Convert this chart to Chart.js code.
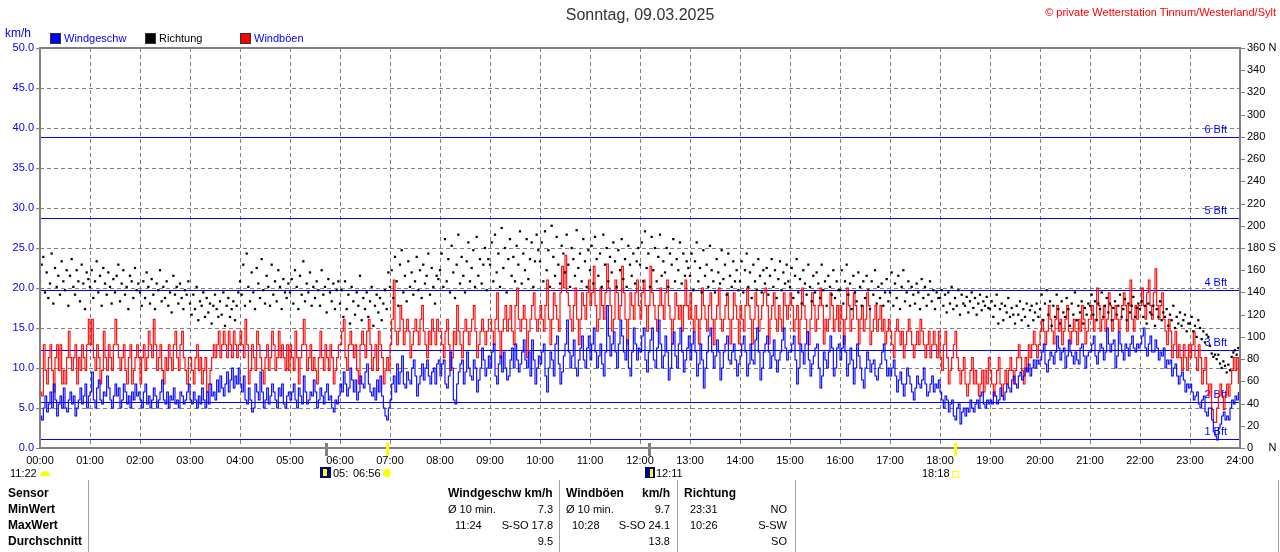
<!DOCTYPE html>
<html><head><meta charset="utf-8">
<script src="https://cdn.jsdelivr.net/npm/chart.js@4.4.1/dist/chart.umd.min.js"></script>
<style>
body{margin:0;background:#fff;}
#wrap{position:relative;width:1280px;height:552px;overflow:hidden;font-family:"Liberation Sans",Arial,sans-serif;font-size:11px;color:#000;}
#c{position:absolute;left:0;top:0;}
.t{position:absolute;white-space:pre;line-height:14px;height:14px;}
.b{font-weight:bold;font-size:12px;}
.sep{position:absolute;width:1px;background:#a0a0a0;top:480px;height:72px;}
.sq{position:absolute;width:9px;height:9px;border:1px solid #333;}
</style></head><body>
<div id="wrap">
<canvas id="c" width="1280" height="552"></canvas>
<div class="t" style="left:0;width:1280px;top:6px;height:18px;line-height:18px;text-align:center;font-size:16px;color:#333;">Sonntag, 09.03.2025</div>
<div class="t" style="right:4px;top:5px;color:#ff0000;">© private Wetterstation Tinnum/Westerland/Sylt</div>
<div class="t" style="left:5px;top:26px;color:#0000ff;font-size:12px;">km/h</div>
<div class="sq" style="left:50px;top:33px;background:#0000ff;"></div>
<div class="t" style="left:64px;top:31px;color:#0000ff;">Windgeschw</div>
<div class="sq" style="left:145px;top:33px;background:#000;"></div>
<div class="t" style="left:159px;top:31px;">Richtung</div>
<div class="sq" style="left:240px;top:33px;background:#ff0000;"></div>
<div class="t" style="left:254px;top:31px;color:#0000ff;">Windböen</div>

<div class="t" style="left:10px;top:466px;">11:22</div>
<div style="position:absolute;left:40px;top:471px;width:10px;height:5px;background:#ffff00;border-radius:5px 5px 0 0;"></div>
<div style="position:absolute;left:320px;top:467px;width:11px;height:11px;background:#000080;"></div>
<div style="position:absolute;left:323px;top:469px;width:4px;height:7px;background:#ffff00;"></div>
<div class="t" style="left:333px;top:466px;">05:</div>
<div class="t" style="left:353px;top:466px;">06:56</div>
<div style="position:absolute;left:383px;top:469px;width:8px;height:8px;background:#ffff00;border-radius:4px;"></div>
<div style="position:absolute;left:645px;top:467px;width:10px;height:11px;background:#000080;"></div>
<div style="position:absolute;left:650px;top:469px;width:3px;height:8px;background:#ffff00;"></div>
<div class="t" style="left:656px;top:466px;">12:11</div>
<div class="t" style="left:922px;top:466px;">18:18</div>
<div style="position:absolute;left:952px;top:471px;width:5px;height:5px;border:1px solid #ffff00;"></div>

<div class="sep" style="left:88px;"></div>
<div class="sep" style="left:559px;"></div>
<div class="sep" style="left:677px;"></div>
<div class="sep" style="left:795px;"></div>
<div class="sep" style="left:1278px;"></div>
<div class="t b" style="left:8px;top:486px;">Sensor</div>
<div class="t b" style="left:8px;top:502px;">MinWert</div>
<div class="t b" style="left:8px;top:518px;">MaxWert</div>
<div class="t b" style="left:8px;top:534px;">Durchschnitt</div>
<div class="t b" style="left:448px;top:486px;">Windgeschw km/h</div>
<div class="t b" style="left:566px;top:486px;">Windböen</div>
<div class="t b" style="right:610px;top:486px;">km/h</div>
<div class="t b" style="left:684px;top:486px;">Richtung</div>
<div class="t" style="left:448px;top:502px;">Ø 10 min.</div>
<div class="t" style="right:727px;top:502px;">7.3</div>
<div class="t" style="left:566px;top:502px;">Ø 10 min.</div>
<div class="t" style="right:610px;top:502px;">9.7</div>
<div class="t" style="left:690px;top:502px;">23:31</div>
<div class="t" style="right:493px;top:502px;">NO</div>
<div class="t" style="left:455px;top:518px;">11:24</div>
<div class="t" style="right:727px;top:518px;">S-SO 17.8</div>
<div class="t" style="left:572px;top:518px;">10:28</div>
<div class="t" style="right:610px;top:518px;">S-SO 24.1</div>
<div class="t" style="left:690px;top:518px;">10:26</div>
<div class="t" style="right:493px;top:518px;">S-SW</div>
<div class="t" style="right:727px;top:534px;">9.5</div>
<div class="t" style="right:610px;top:534px;">13.8</div>
<div class="t" style="right:493px;top:534px;">SO</div>
</div>
<script>
// sample interval in minutes (each row below = half an hour)
const stepMin = 2;
const hourLabels = ['00:00','01:00','02:00','03:00','04:00','05:00','06:00','07:00','08:00','09:00','10:00','11:00','12:00','13:00','14:00','15:00','16:00','17:00','18:00','19:00','20:00','21:00','22:00','23:00','24:00'];
const windSpeed = [
4,3.5,5,6.5,4.5,5.5,7,5,8,6,4,5.5,6.5,5,7.5,
5,4.5,6,7,5.5,6.5,4,5,6,7.5,5.5,6.5,8,5,6.5,
7,9.5,6,5,7.5,8.5,6,5.5,7,6.5,9,7.5,6,5,6.5,
8,6.5,7.5,5,6,8,7,5.5,6.5,5,7,6,8,6.5,7,
6,5,7,8,5.5,6.5,5,6,7.5,6.5,5,6,7,8.5,6,
5.5,7,5,6.5,6,7.5,5.5,6,5,7,6.5,5.5,6,7,8,
6,5.5,7,6,5,6.5,5.5,7.5,6,5,7,5.5,8,6.5,7,
6,8.5,7,9,7.5,6.5,8,9.5,7,8.5,10,7.5,9,8,10,
8,7,9,6,5.5,7.5,6,4.5,5,8,7,6,9.5,7,5,
6,7.5,5.5,6.5,8,7,6,5,7.5,6.5,8,5.5,5,6.5,7,
6,7,8,6,5,7.5,6.5,5.5,9,7,5.5,6,7,6.5,8.5,
7,5,6,7.5,6.5,5.5,7,8,6,6.5,5,4.5,6,5.5,6.5,
8,7,9.5,8,6.5,7.5,10,8.5,7,8.5,6,7,9,8,7.5,
9.5,10.5,8,7,6.5,7.5,6,8.5,7,9,6.5,5,4,3.5,5,
6,8,9,7,10.5,8,9.5,11.5,8,7.5,9.5,8.5,8,10,11,
9,6.5,8,9,10.5,8.5,10,11,9,8,9.5,10,8,10.5,11,
9,10.5,11,8,7.5,9,12,10,6,5.5,8,9.5,10.5,11,8,
9.5,12,10,9,8.5,11,10,7,8.5,10,12.5,11,9,10,11.5,
10,12,13,9,8,10.5,11.5,9.5,12,10,8.5,9,11,12.5,10,
13,11,9.5,10.5,12,13.5,11,10,12,9,13.5,11,8,10,11.5,
10.5,12,13,9,7,10,12,11,9,13,14,10.5,8,9.5,11.5,
13,16,12,10,11.5,13.5,10,9,11,12.5,14,11,10,12.5,14,
11,13,15,12,10,11.5,13,10.5,9,12,17.8,14,11.5,13,14.5,
12,10,13,16,14,12,11,13.5,10,9,12,15,13,11,12.5,
12,14,15,11,9.5,12,13.5,15,11,10,12.5,16,13,10,11.5,
14,12,8.5,10,13,14.5,11.5,10,13,15,12,9.5,11,12.5,14,
11,13,14.5,12,9,10.5,13,11,7.5,10,12,14,15,12,10,
11.5,13.5,12,8.5,10,12,13,14,11,10.5,12,13,11,9,10.5,
11.5,13,14,12,9,10.5,13,11,10.5,13.5,15,12,8.5,10,12,
13,14,12,10,11.5,13.5,11,9.5,11,12,13.5,15,12.5,11,12,
12,13,14,11,8,10,13,12,10.5,13,14.5,11,9,10.5,11.5,
12.5,13,10,7.5,9,12,11,10,12,14,12.5,9,10,12.5,13,
11,12.5,14,12,9,10.5,12.5,11,8,10,13,11.5,10,8.5,7.5,
10,12,11,9.5,10.5,11,9,8.5,10,10.5,12,13,11,9,10,
9,10,11,9,7,8.5,9.5,8,6.5,8,10,9,8,7,6,
7.5,9,8,7.5,8.5,10,8,6.5,7,8,9,7,8,7.5,8.5,
7,6,5,6.5,6,4.5,5.5,6,4,3.5,5,5.5,3,4.5,5,
4,5,4.5,6,5,4.5,5.5,6,5,6.5,7,5.5,5,6,5.5,
6,5.5,7,6.5,5.5,6,7.5,6.5,6,7,8,7.5,7,8.5,9,
8,7.5,9,9.5,8.5,9,10,9.5,10.5,9,10,11,10,11,10.5,
11,12,13,10.5,9.5,11,12,11.5,10.5,12,14,12.5,11,12,12.5,
10,11.5,13.5,12,11.5,10.5,12,11,10.5,12.5,13,11.5,10,11.5,12,
12,13,14,11.5,10.5,12,13,12.5,11,12,15,13,12,13,13.5,
10,11.5,14.5,13,12,11,13,12.5,11.5,13,14,12.5,12,13,12.5,
13,14,15,12.5,11.5,13,14,12,12,13.5,12.5,11,12,11.5,12.5,
10,11,10.5,11,9,10,10.5,9,8,9,9.5,8.5,7,8,7.5,
8,7,6,6.5,7,5.5,5,6,6.5,4.5,4,5,5,3.5,2,
1.5,1,2.5,3,4,4.5,3.5,4,3.5,5,6,5.5,6.5,6,7
];
const windGust = [
7,6.5,12.9,9.7,8,11.3,12.9,9.7,7,11.3,12.9,9.7,12.9,8,9.7,
8,11.3,14.6,11.3,9.7,11.3,12.9,8,11.3,9.7,12.9,11.3,9.7,12.9,16.1,
12.9,16.1,11.3,9.7,12.9,11.3,8,9.7,14.6,11.3,9.7,12.9,11.3,9.7,12.9,
16.1,12.9,11.3,9.7,11.3,12.9,9.7,8,11.3,12.9,8,9.7,11.3,12.9,11.3,
8,11.3,12.9,9.7,11.3,14.6,12.9,11.3,16.1,12.9,9.7,11.3,12.9,9.7,8,
11.3,9.7,12.9,11.3,9.7,12.9,14.6,11.3,9.7,12.9,14.6,11.3,9.7,8,11.3,
11.3,9.7,8,11.3,12.9,9.7,11.3,8,9.7,11.3,7,8,9.7,11.3,12.9,
11.3,12.9,14.6,11.3,12.9,14.6,12.9,11.3,14.6,12.9,11.3,14.6,12.9,11.3,12.9,
14.6,12.9,11.3,16.1,12.9,8,9.7,12.9,11.3,9.7,14.6,12.9,11.3,9.7,8,
11.3,12.9,9.7,11.3,14.6,12.9,9.7,11.3,14.6,11.3,12.9,11.3,9.7,12.9,9.7,
12.9,11.3,9.7,14.6,11.3,8,11.3,12.9,16.1,12.9,9.7,11.3,12.9,9.7,11.3,
9.7,8,11.3,14.6,11.3,9.7,12.9,11.3,9.7,12.9,11.3,8,9.7,11.3,12.9,
12.9,14.6,16.1,11.3,9.7,12.9,14.6,12.9,11.3,12.9,9.7,8,12.9,14.6,12.9,
11.3,14.6,16.1,12.9,9.7,11.3,12.9,9.7,14.6,12.9,11.3,8,9.7,11.3,9.7,
12.9,16.1,21,14.6,12.9,14.6,17.8,16.1,12.9,14.6,16.1,14.6,11.3,12.9,14.6,
16.1,14.6,12.9,16.1,17.8,14.6,12.9,11.3,14.6,12.9,16.1,14.6,12.9,16.1,14.6,
14.6,12.9,11.3,14.6,16.1,12.9,9.7,11.3,14.6,12.9,17.8,14.6,12.9,11.3,14.6,
16.1,14.6,12.9,14.6,16.1,17.8,14.6,11.3,12.9,14.6,16.1,14.6,12.9,14.6,16.1,
16.1,14.6,12.9,16.1,19.4,14.6,11.3,14.6,16.1,17.8,14.6,16.1,17.8,14.6,12.9,
17.8,20,16.1,14.6,16.1,17.8,16.1,11.3,14.6,16.1,17.8,19.4,16.1,14.6,16.1,
17.8,16.1,14.6,17.8,21,16.1,12.9,16.1,19.4,17.8,16.1,14.6,19.4,22.7,20,
24.1,19.4,17.8,16.1,14.6,17.8,20,16.1,12.9,16.1,19.4,17.8,16.1,19.4,21,
17.8,19.4,22.7,17.8,14.6,16.1,20,17.8,16.1,19.4,23,20,17.8,14.6,16.1,
21,19.4,16.1,17.8,22.7,19.4,16.1,13,16.1,19.4,17.8,16.1,19.4,21,17.8,
16.1,19.4,21,17.8,14.6,17.8,22.7,19.4,17.8,16.1,14.6,17.8,20,17.8,16.1,
19.4,21,17.8,16.1,13,16.1,19.4,17.8,16.1,17.8,14.6,17.8,21,17.8,16.1,
19.4,16.1,14.6,17.8,16.1,13,16.1,20,17.8,16.1,14.6,17.8,19.4,16.1,12.9,
16.1,17.8,20,16.1,14.6,16.1,17.8,19.4,16.1,13,16.1,19.4,17.8,16.1,13,
17.8,16.1,14.6,17.8,20,17.8,16.1,13,16.1,19.4,17.8,14.6,16.1,17.8,19.4,
20,17.8,13,16.1,17.8,19.4,16.1,14.6,17.8,16.1,14.6,19.4,17.8,16.1,17.8,
19.4,17.8,14.6,16.1,17.8,13,16.1,20,17.8,16.1,14.6,12.9,16.1,19.4,17.8,
14.6,16.1,17.8,20,17.8,13,16.1,14.6,16.1,19.4,17.8,14.6,16.1,17.8,14.6,
17.8,16.1,13,16.1,20,17.8,14.6,16.1,19.4,17.8,16.1,13,16.1,17.8,14.6,
16.1,19.4,17.8,12.9,14.6,16.1,17.8,14.6,16.1,17.8,14.6,16.1,13,14.6,16.1,
14.6,12.9,11.3,14.6,16.1,14.6,12.9,14.6,11.3,12.9,14.6,16.1,14.6,12.9,11.3,
12.9,14.6,12.9,16.1,14.6,12.9,11.3,12.9,14.6,11.3,12.9,14.6,12.9,11.3,14.6,
11.3,9.7,12.9,14.6,11.3,8,9.7,11.3,12.9,14.6,11.3,9.7,8,9.7,11.3,
8,6.5,8,9.7,11.3,8,9.7,8,6.5,8,9.7,7,9.7,8,11.3,
9.7,8,6.5,8,9.7,11.3,8,6.5,8,9.7,8,9.7,11.3,9.7,8,
9.7,11.3,12.9,11.3,9.7,8,11.3,9.7,12.9,11.3,12.9,14.6,12.9,11.3,12.9,
14.6,16.1,14.6,12.9,14.6,17.8,16.1,14.6,13,16.1,17.8,14.6,16.1,12.9,14.6,
16.1,17.8,14.6,13,14.6,16.1,14.6,12.9,16.1,14.6,17.8,16.1,13,14.6,16.1,
16.1,17.8,14.6,16.1,20,17.8,14.6,16.1,17.8,14.6,16.1,19.4,17.8,14.6,16.1,
17.8,16.1,14.6,16.1,17.8,19.4,17.8,14.6,17.8,21,16.1,14.6,17.8,16.1,17.8,
17.8,20,17.8,16.1,19.4,21,17.8,16.1,19.4,22.4,17.8,16.1,17.8,19.4,16.1,
14.6,12.9,16.1,14.6,11.3,12.9,14.6,11.3,12.9,11.3,9.7,12.9,11.3,9.7,12.9,
11.3,12.9,14.6,11.3,9.7,12.9,11.3,8,9.7,11.3,8,6.5,8,4.8,3.2,
3.2,5,6.5,8,6.5,4.8,6.5,8,6.5,8,9.7,11.3,9.7,11.3,8
];
const windDir = [
150,165,172,140,158,135,148,175,130,162,145,155,138,168,150,
142,160,128,155,170,145,138,160,150,132,165,148,125,158,152,
145,160,135,150,168,140,155,128,162,148,138,158,145,130,152,
140,155,165,132,148,160,138,145,125,155,150,135,162,142,148,
140,128,150,135,158,145,130,152,138,125,148,142,160,132,145,
135,150,128,140,122,155,138,145,130,148,135,125,142,138,150,
130,120,138,125,145,115,132,128,140,118,135,122,130,112,128,
138,125,118,132,120,140,110,128,135,118,125,132,115,128,140,
150,138,165,128,175,145,132,158,140,125,162,148,135,170,142,
130,155,145,128,165,138,150,132,160,145,125,152,140,135,148,
140,152,130,160,145,125,155,138,168,132,148,140,158,128,145,
135,150,142,128,160,138,145,122,152,140,132,148,125,142,150,
130,142,118,150,125,138,112,145,132,120,140,128,155,115,135,
125,140,118,132,145,110,128,138,122,135,115,130,142,125,158,
145,160,135,172,150,128,165,178,140,155,132,168,145,158,138,
150,172,142,160,135,165,148,155,175,138,162,145,130,155,152,
160,175,145,188,150,170,140,182,158,135,165,192,148,172,155,
140,168,185,150,162,178,145,190,155,170,148,165,180,142,170,
165,185,150,192,158,175,145,198,162,180,140,170,188,155,172,
150,182,165,195,148,175,160,188,152,170,185,145,168,192,178,
168,185,150,195,160,178,145,200,172,155,190,165,148,182,175,
158,192,165,145,180,170,155,196,162,175,150,188,168,145,178,
160,182,148,190,170,155,175,145,192,165,180,150,172,158,185,
168,145,178,160,188,152,170,145,182,165,155,175,148,168,180,
165,185,150,195,162,175,145,190,160,180,150,172,192,155,168,
158,180,145,175,165,188,150,170,160,185,148,175,155,168,162,
155,175,142,168,185,150,162,140,178,155,165,145,182,160,150,
140,170,158,148,178,152,165,138,175,155,145,168,150,160,142,
150,168,140,160,175,145,158,135,165,150,142,170,155,140,160,
148,162,138,155,170,145,160,135,152,168,142,158,148,165,150,
145,162,135,155,170,140,152,130,160,148,138,165,145,132,155,
140,158,148,135,165,142,150,128,155,145,138,160,135,150,142,
142,160,130,150,165,138,148,125,155,140,132,158,145,128,150,
135,155,142,125,150,138,160,130,145,135,148,128,140,152,132,
140,158,128,148,135,155,125,145,160,132,140,150,128,145,138,
130,148,140,125,152,135,145,128,138,150,132,142,125,140,135,
135,142,128,138,122,140,130,145,125,135,128,142,120,138,130,
128,136,122,132,140,126,135,120,130,138,124,132,128,136,126,
125,132,118,128,138,112,125,130,115,128,122,135,118,126,120,
112,128,120,132,115,125,118,130,110,124,128,115,122,130,118,
125,138,115,130,142,120,132,110,128,118,138,125,112,132,122,
118,135,125,110,130,120,140,115,128,122,132,112,126,120,130,
128,138,120,132,115,130,125,140,118,128,135,122,130,115,126,
132,120,128,138,118,125,134,115,130,122,128,136,118,126,130,
125,132,118,128,112,130,122,120,128,110,125,118,132,115,122,
118,125,110,120,115,128,108,118,112,122,110,115,120,105,112,
112,118,105,110,100,115,108,98,105,95,102,100,92,85,82,
84,80,84,76,72,78,74,68,75,70,82,86,88,84,90
];
const bftValues = [1.08, 5.76, 12.24, 19.8, 28.8, 38.88];
const bftLabels = ['1 Bft','2 Bft','3 Bft','4 Bft','5 Bft','6 Bft'];
const dirLabelMap = {0:'0     N', 180:'180 S', 360:'360 N'};
const markerTimes = [343, 416, 731, 1098];
const markerColors = ['#808080','#ffff00','#808080','#ffff00'];

const toXY = arr => arr.map((v,i) => ({x: i*stepMin, y: v}));

const decor = {
  id:'decor',
  beforeDatasetsDraw(chart){
    const {ctx, chartArea:a, scales:{x,y}} = chart;
    ctx.save();
    ctx.strokeStyle = '#808080'; ctx.lineWidth = 1; ctx.setLineDash([4,3]);
    y.ticks.forEach(t => {
      if (t.value<=0 || t.value>=50) return;
      const py = Math.round(y.getPixelForValue(t.value))+0.5;
      ctx.beginPath(); ctx.moveTo(a.left, py); ctx.lineTo(a.right, py); ctx.stroke();
    });
    x.ticks.forEach(t => {
      if (t.value<=0 || t.value>=1440) return;
      const px = Math.round(x.getPixelForValue(t.value))+0.5;
      ctx.beginPath(); ctx.moveTo(px, a.top); ctx.lineTo(px, a.bottom); ctx.stroke();
    });
    ctx.setLineDash([]);
    ctx.strokeStyle = '#0000ff'; ctx.fillStyle = '#0000ff';
    ctx.font = '11px "Liberation Sans", Arial, sans-serif';
    ctx.textAlign = 'right'; ctx.textBaseline = 'bottom';
    bftValues.forEach((v,i) => {
      const py = Math.round(y.getPixelForValue(v))+0.5;
      ctx.beginPath(); ctx.moveTo(a.left, py); ctx.lineTo(a.right, py); ctx.stroke();
      ctx.fillText(bftLabels[i], a.right-13, py-2);
    });
    ctx.restore();
  },
  afterDraw(chart){
    const {ctx, chartArea:a, scales:{x,y,y2}} = chart;
    ctx.save();
    ctx.strokeStyle = '#808080'; ctx.lineWidth = 1;
    y.ticks.forEach(t => {
      const py = Math.round(y.getPixelForValue(t.value))+0.5;
      ctx.beginPath(); ctx.moveTo(a.left-4, py); ctx.lineTo(a.left, py); ctx.stroke();
    });
    y2.ticks.forEach(t => {
      const py = Math.round(y2.getPixelForValue(t.value))+0.5;
      ctx.beginPath(); ctx.moveTo(a.right, py); ctx.lineTo(a.right+5, py); ctx.stroke();
    });
    ctx.lineWidth = 2;
    ctx.strokeRect(a.left, a.top, a.right-a.left, a.bottom-a.top);
    markerTimes.forEach((m,i) => {
      const px = Math.round(x.getPixelForValue(m));
      ctx.fillStyle = markerColors[i];
      ctx.fillRect(px-1, a.bottom-5, 3, 13);
    });
    ctx.restore();
  }
};

new Chart(document.getElementById('c'), {
  type:'line',
  data:{datasets:[
    {label:'Richtung', data:toXY(windDir), yAxisID:'y2', showLine:false, pointStyle:'rect', pointRadius:1.6, backgroundColor:'#000', borderColor:'#000', borderWidth:0, order:0},
    {label:'Windgeschw', data:toXY(windSpeed), yAxisID:'y', borderColor:'#0000ff', borderWidth:1.1, stepped:true, pointRadius:0, order:1},
    {label:'Windböen', data:toXY(windGust), yAxisID:'y', borderColor:'#ff0000', borderWidth:1.1, stepped:true, pointRadius:0, order:2}
  ]},
  options:{
    responsive:false, animation:false, devicePixelRatio:1, events:[],
    layout:{padding:{top:48,left:0,right:0,bottom:0}},
    plugins:{legend:{display:false}, title:{display:false}, tooltip:{enabled:false}},
    scales:{
      x:{type:'linear', min:0, max:1440, grid:{display:false, drawTicks:false}, border:{display:false},
         ticks:{stepSize:60, autoSkip:false, maxRotation:0, padding:6, color:'#000', font:{size:11, family:'"Liberation Sans", Arial, sans-serif'},
                callback:v => hourLabels[v/60]},
         afterFit:s => { s.height = 104; }},
      y:{position:'left', min:0, max:50, grid:{display:false, drawTicks:false}, border:{display:false},
         ticks:{stepSize:5, padding:6, color:'#0000ff', font:{size:11, family:'"Liberation Sans", Arial, sans-serif'}, callback:v => v.toFixed(1)},
         afterFit:s => { s.width = 40; }},
      y2:{position:'right', min:0, max:360, grid:{display:false, drawTicks:false}, border:{display:false},
         ticks:{stepSize:20, padding:7, color:'#000', font:{size:11, family:'"Liberation Sans", Arial, sans-serif'}, callback:v => (dirLabelMap[v] !== undefined ? dirLabelMap[v] : String(v))},
         afterFit:s => { s.width = 40; }}
    }
  },
  plugins:[decor]
});
</script>
</body></html>
